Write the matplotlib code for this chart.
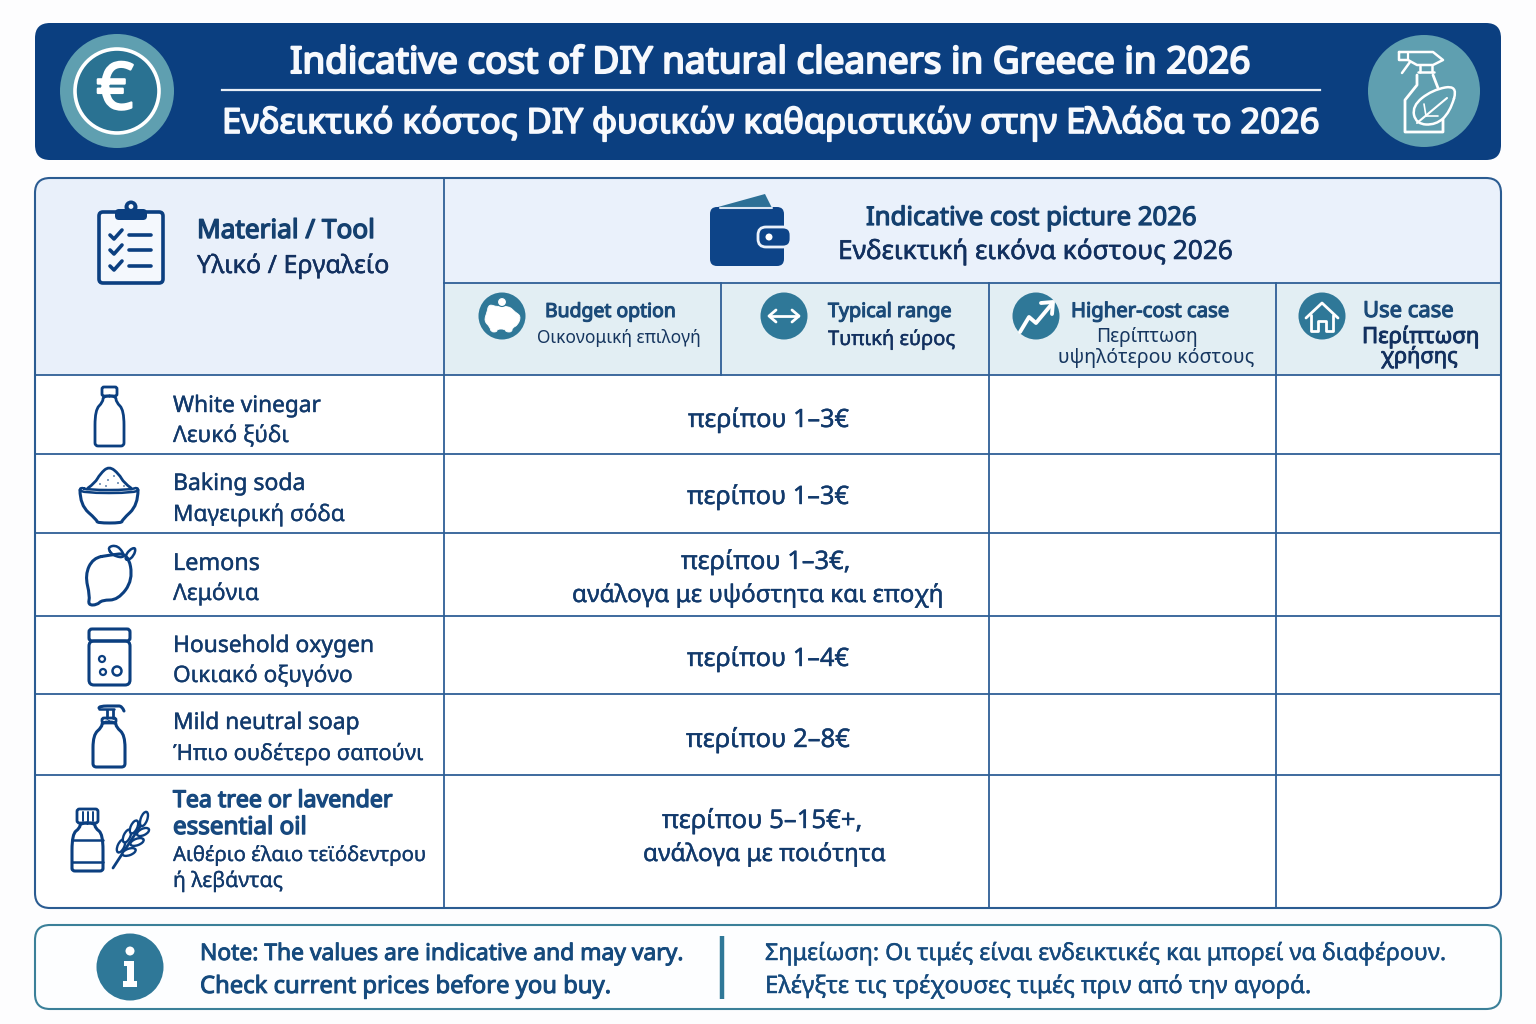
import matplotlib
matplotlib.use('Agg')
import matplotlib.pyplot as plt
import matplotlib.patheffects as pe
from matplotlib.font_manager import FontProperties
from matplotlib.patches import Circle, Ellipse, FancyBboxPatch, PathPatch, Polygon, Rectangle
from matplotlib.path import Path
from matplotlib.textpath import TextPath

# chart content
title_en = 'Indicative cost of DIY natural cleaners in Greece in 2026'
title_gr = 'Ενδεικτικό κόστος DIY φυσικών καθαριστικών στην Ελλάδα το 2026'
material_head = ['Material / Tool', 'Υλικό / Εργαλείο']
cost_head = ['Indicative cost picture 2026', 'Ενδεικτική εικόνα κόστους 2026']
materials_en = ['White vinegar', 'Baking soda', 'Lemons', 'Household oxygen', 'Mild neutral soap']
materials_gr = ['Λευκό ξύδι', 'Μαγειρική σόδα', 'Λεμόνια', 'Οικιακό οξυγόνο', 'Ήπιο ουδέτερο σαπούνι']
oil_lines = ['Tea tree or lavender', 'essential oil', 'Αιθέριο έλαιο τεϊόδεντρου', 'ή λεβάντας']
costs = ['περίπου 1–3€', 'περίπου 1–3€', 'περίπου 1–3€,', 'ανάλογα με υψόστητα και εποχή',
         'περίπου 1–4€', 'περίπου 2–8€', 'περίπου 5–15€+,', 'ανάλογα με ποιότητα']
note_en = ['Note: The values are indicative and may vary.', 'Check current prices before you buy.']
note_gr = ['Σημείωση: Οι τιμές είναι ενδεικτικές και μπορεί να διαφέρουν.',
           'Ελέγξτε τις τρέχουσες τιμές πριν από την αγορά.']

NAVY = '#0b3f80'
INK = '#123a6c'
TEAL = '#2f7898'
LIGHT_TEAL = '#5f9fb0'
GRID = '#2f5f96'
FONT = 'Noto Sans'

fig = plt.figure(figsize=(15.36, 10.24), dpi=100, facecolor='#fdfdfe')
ax = fig.add_axes([0, 0, 1, 1])
ax.set_xlim(0, 1536)
ax.set_ylim(1024, 0)
ax.axis('off')


def label(x0, x1, base, s, color=INK, heavy=0.0):
    # font size is taken from the width the text has in the picture,
    # the installed Noto Sans has one weight so heavier text gets a thin stroke
    fp = FontProperties(family=FONT)
    w = TextPath((0, 0), s, size=100, prop=fp).get_extents().width
    t = ax.text(x0, base, s, fontproperties=fp, color=color, va='baseline', ha='left',
                fontsize=100 * (x1 - x0) / w * 0.72 * 0.995, zorder=5)
    if heavy:
        t.set_path_effects([pe.withStroke(linewidth=heavy, foreground=color)])


def box(x0, y0, x1, y1, r, fc='none', ec='none', lw=0.0, z=2):
    p = FancyBboxPatch((x0 + r, y0 + r), x1 - x0 - 2 * r, y1 - y0 - 2 * r,
                       boxstyle='round,pad=%f,rounding_size=%f' % (r, r),
                       fc=fc, ec=ec, lw=lw, zorder=z)
    ax.add_patch(p)
    return p


def line(pts, color=NAVY, lw=2.0, z=4):
    xs, ys = zip(*pts)
    ax.plot(xs, ys, color=color, lw=lw, solid_capstyle='round', solid_joinstyle='round', zorder=z)


def smooth(pts, fc='none', ec=NAVY, lw=2.0, z=4, closed=True):
    # quadratic curves through the midpoints of the given points
    mid = lambda a, b: ((a[0] + b[0]) / 2, (a[1] + b[1]) / 2)
    if closed:
        verts = [mid(pts[-1], pts[0])]
        codes = [Path.MOVETO]
        for i, p in enumerate(pts):
            verts += [p, mid(p, pts[(i + 1) % len(pts)])]
            codes += [Path.CURVE3, Path.CURVE3]
    else:
        verts = [pts[0]]
        codes = [Path.MOVETO]
        for i, p in enumerate(pts[1:-1]):
            end = pts[-1] if i == len(pts) - 3 else mid(p, pts[i + 2])
            verts += [p, end]
            codes += [Path.CURVE3, Path.CURVE3]
    ax.add_patch(PathPatch(Path(verts, codes), fc=fc, ec=ec, lw=lw, zorder=z,
                           joinstyle='round', capstyle='round'))


# --- banner ---
box(35, 23, 1501, 160, 15, fc=NAVY)
ax.add_patch(Circle((117, 91), 57, fc=LIGHT_TEAL, zorder=3))
ax.add_patch(Circle((117, 91), 42, fc='#2a7292', ec='white', lw=2.6, zorder=3))
euro = ax.text(115, 92, '€', color='white', fontsize=47, family=FONT, ha='center', va='center', zorder=5)
euro.set_path_effects([pe.withStroke(linewidth=1.6, foreground='white')])
label(290, 1252, 73, title_en, color='#f7f9fd', heavy=1.5)
label(222, 1320, 133, title_gr, color='#f7f9fd', heavy=1.2)
ax.plot([222, 1320], [89.5, 89.5], color='#e8eef6', lw=1.6, zorder=4)

ax.add_patch(Circle((1424, 91), 56, fc=LIGHT_TEAL, zorder=3))
WL = 'white'
line([(1399, 52), (1433, 52), (1443, 60), (1433, 65), (1417, 65), (1408, 60), (1399, 60), (1399, 52)], WL, 1.8)
line([(1408, 52), (1408, 60)], WL, 1.6)
line([(1410, 62), (1402, 73)], WL, 1.8)
line([(1420, 66), (1420, 72)], WL, 1.8)
line([(1432, 66), (1432, 72)], WL, 1.8)
line([(1418, 72), (1434, 72)], WL, 1.8)
line([(1417, 75), (1417, 85), (1405, 100), (1405, 132), (1443, 132), (1443, 118)], WL, 2.0)
line([(1433, 75), (1438, 88)], WL, 2.0)
smooth([(1458, 85), (1432, 90), (1412, 106), (1416, 124), (1436, 125), (1450, 112)], fc=LIGHT_TEAL, ec=WL, lw=1.8)
line([(1417, 123), (1447, 98)], WL, 1.5)
line([(1426, 116), (1424, 104)], WL, 1.2)
line([(1426, 116), (1438, 116)], WL, 1.2)

# --- table background, clipped to the rounded frame ---
frame = box(35, 178, 1501, 908, 15, fc='#ffffff', z=1)
head_fills = [((35, 178, 409, 197), '#e9f0fa'), ((444, 178, 1057, 105), '#eaf1fb'), ((444, 283, 1057, 92), '#e2eef3')]
for (x, y, w, h), col in head_fills:
    r = Rectangle((x, y), w, h, fc=col, zorder=1)
    ax.add_patch(r)
    r.set_clip_path(frame)

rule_y = [375, 454, 533, 616, 694, 775]
for y in rule_y:
    ax.plot([35, 1501], [y, y], color=GRID, lw=1.3, zorder=3)
ax.plot([444, 1501], [283, 283], color=GRID, lw=1.3, zorder=3)
ax.plot([444, 444], [178, 908], color=GRID, lw=1.3, zorder=3)
ax.plot([721, 721], [283, 375], color=GRID, lw=1.3, zorder=3)
for x in (989, 1276):
    ax.plot([x, x], [283, 908], color=GRID, lw=1.3, zorder=3)
box(35, 178, 1501, 908, 15, ec='#2b5c92', lw=1.5, z=3)

# --- table heads ---
box(99, 212, 163, 283, 4, fc='#f4f8fd', ec=NAVY, lw=2.6, z=4)
box(115, 209, 147, 220, 4, fc=NAVY, z=5)
ax.add_patch(Circle((131, 207), 6.5, fc=NAVY, zorder=5))
ax.add_patch(Circle((131, 206.5), 2.4, fc='#f4f8fd', zorder=6))
for y in (235, 250, 266):
    line([(110, y), (114, y + 4), (122, y - 5)], NAVY, 2.6)
    line([(129, y), (151, y)], NAVY, 2.6)
label(197, 371, 238, material_head[0], heavy=1.0, color='#14406f')
label(197, 389, 273, material_head[1], heavy=0.3, color='#12305f')

box(710, 207, 784, 266, 7, fc='#0d4488', z=4)
ax.add_patch(Polygon([(718, 207), (765, 194), (772, 208)], fc='#2d7096', zorder=3))
line([(720, 208), (772, 208)], '#dbe6f3', 1.5, z=5)
box(758, 227, 791, 247, 8, fc='#0d4488', ec='#eaf1fb', lw=2, z=5)
ax.add_patch(Circle((769, 237), 3.5, fc='white', zorder=6))
label(866, 1196, 225, cost_head[0], heavy=0.9, color='#14406f')
label(838, 1231, 259, cost_head[1], heavy=0.4, color='#12305f')

# --- sub heads ---
for cx in (502, 784, 1036, 1322):
    ax.add_patch(Circle((cx, 316), 23.5, fc=TEAL, zorder=3))
smooth([(489, 304), (497, 307), (509, 306), (515, 312), (521, 316), (518, 325), (512, 328), (512, 332), (506, 332), (505, 329), (497, 329), (497, 332),
        (491, 332), (490, 327), (484, 321), (487, 312)], fc='white', ec='white', lw=0.6)
ax.add_patch(Circle((502, 302), 4.5, fc='white', ec=TEAL, lw=0.8, zorder=4.5))
line([(770, 316), (798, 316)], 'white', 2.0)
line([(776, 310), (769, 316), (776, 322)], 'white', 2.0)
line([(792, 310), (799, 316), (792, 322)], 'white', 2.0)
line([(1020, 332), (1029, 317), (1036, 323), (1051, 305)], 'white', 2.8)
line([(1041, 303), (1053, 302), (1052, 314)], 'white', 2.8)
line([(1306, 318), (1322, 303), (1338, 318)], 'white', 2.0)
line([(1311, 315), (1311, 331), (1318, 331), (1318, 321), (1326, 321), (1326, 331), (1333, 331), (1333, 315)], 'white', 2.0)

SUB = '#1b4a78'
label(545, 673, 317, 'Budget option', heavy=0.8, color=SUB)
label(537, 699, 343, 'Οικονομική επιλογή', color='#16365f')
label(828, 951, 317, 'Typical range', heavy=0.8, color=SUB)
label(828, 955, 345, 'Τυπική εύρος', heavy=0.3, color='#12305f')
label(1071, 1227, 317, 'Higher-cost case', heavy=0.8, color=SUB)
label(1096, 1195, 342, 'Περίπτωση', color='#16365f')
label(1058, 1253, 363, 'υψηλότερου κόστους', color='#16365f')
label(1363, 1451, 317, 'Use case', heavy=0.8, color=SUB)
label(1362, 1476, 343, 'Περίπτωση', heavy=0.7, color='#12305f')
label(1381, 1457, 363, 'χρήσης', heavy=0.6, color='#12305f')

# --- material rows ---
en_base = [412, 490, 570, 652, 729]
gr_base = [442, 521, 600, 682, 760]
en_right = [321, 302, 257, 371, 357]
gr_right = [289, 343, 259, 351, 424]
for i in range(len(materials_en)):
    label(173, en_right[i], en_base[i], materials_en[i], heavy=0.3)
    label(173, gr_right[i], gr_base[i], materials_gr[i], heavy=0.2)
label(173, 393, 807, oil_lines[0], heavy=1.0, color='#17497f')
label(173, 304, 834, oil_lines[1], heavy=1.0, color='#17497f')
label(173, 426, 861, oil_lines[2], heavy=0.2)
label(173, 281, 887, oil_lines[3], heavy=0.2)

cost_base = [427, 504, 569, 602, 666, 747, 828, 861]
cost_left = [688, 687, 681, 572, 687, 686, 662, 643]
cost_right = [849, 849, 849, 942, 849, 850, 861, 885]
for i in range(len(costs)):
    label(cost_left[i], cost_right[i], cost_base[i], costs[i], heavy=0.3)

# --- row icons ---
# vinegar bottle
box(102, 387, 117, 396, 2, ec=NAVY, lw=2)
smooth([(103, 396), (103, 402), (95, 410), (95, 440), (95, 446), (101, 446), (118, 446), (124, 446), (124, 440), (124, 410), (116, 402), (116, 396)], lw=2)
# bowl
smooth([(80, 490), (80, 505), (97, 520), (97, 523), (122, 523), (122, 520), (138, 505), (138, 490)], lw=2.2, closed=False)
smooth([(88, 488), (95, 483), (100, 474), (109, 466), (119, 474), (124, 483), (131, 488)], lw=2, closed=False)
smooth([(80, 487), (80, 493), (138, 493), (138, 487), (130, 490), (88, 490)], fc='white', lw=1.8)
for p in [(100, 484), (108, 480), (114, 476), (118, 483), (124, 486), (106, 486)]:
    ax.add_patch(Circle(p, 0.8, fc=NAVY, zorder=4))
# lemon
smooth([(110, 555), (128, 553), (133, 580), (118, 600), (102, 600), (97, 605), (88, 605), (90, 596), (85, 575), (93, 558)], lw=2.2)
smooth([(107, 547), (118, 545), (126, 558), (113, 556)], lw=1.8)
smooth([(125, 557), (129, 550), (136, 547), (134, 556), (127, 561)], lw=1.8)
# jar
box(89, 629, 130, 641, 3, ec=NAVY, lw=2.2)
box(89, 641, 130, 685, 5, ec=NAVY, lw=2.2)
ax.add_patch(Circle((102, 659), 3, fc='none', ec=NAVY, lw=1.6, zorder=4))
ax.add_patch(Circle((103, 672), 3, fc='none', ec=NAVY, lw=1.6, zorder=4))
ax.add_patch(Circle((117, 671), 4.5, fc='none', ec=NAVY, lw=1.8, zorder=4))
# soap pump
smooth([(102, 722), (102, 727), (93, 735), (93, 760), (93, 767), (100, 767), (118, 767), (125, 767), (125, 760), (125, 735), (116, 727), (116, 722)], lw=2.2)
box(102, 718, 116, 723, 2, ec=NAVY, lw=2)
line([(107, 710), (107, 718)], NAVY, 2.0)
line([(113, 710), (113, 718)], NAVY, 2.0)
smooth([(99, 708), (99, 706), (116, 706), (122, 706), (124, 711)], lw=2.2, closed=False)
line([(99, 709), (114, 709)], NAVY, 1.8)
# essential oil bottle
box(77, 809, 98, 823, 2.5, ec=NAVY, lw=2.0)
for x in (82.5, 87.5, 92.5):
    line([(x, 812), (x, 821)], NAVY, 1.4)
smooth([(80, 823), (80, 828), (72, 834), (72, 866), (72, 871), (78, 871), (97, 871), (103, 871), (103, 866), (103, 834), (95, 828), (95, 823)], lw=2.2)
line([(72, 840), (103, 840)], NAVY, 1.8)
line([(72, 862), (103, 862)], NAVY, 1.8)
# sprig
line([(113, 868), (143, 822)], NAVY, 2.0)
sprig = [((121, 846), 14, -65), ((127, 836), 14, -65), ((134, 827), 14, -65), ((144, 819), 15, -70),
         ((129, 852), 14, -20), ((137, 842), 14, -20), ((143, 832), 13, -25)]
for c, length, ang in sprig:
    ax.add_patch(Ellipse(c, length, 6.5, angle=ang, fc='white', ec=NAVY, lw=1.7, zorder=4))

# --- note box ---
box(35, 925, 1501, 1009, 15, fc='#fdfeff', ec='#3b8099', lw=1.5, z=2)
ax.add_patch(Circle((130, 967), 33.5, fc=TEAL, zorder=3))
ax.add_patch(Circle((130, 951), 4.5, fc='white', zorder=4))
ax.add_patch(Polygon([(124, 961), (134, 961), (134, 981), (137, 981), (137, 987), (123, 987), (123, 981), (127, 981), (127, 966), (124, 966)],
                     fc='white', zorder=4))
ax.plot([722, 722], [936, 999], color=TEAL, lw=3.2, solid_capstyle='butt', zorder=3)
label(200, 682, 960, note_en[0], color='#154a7d', heavy=0.7)
label(200, 610, 993, note_en[1], color='#154a7d', heavy=0.7)
label(765, 1447, 960, note_gr[0], color='#154a7d', heavy=0.3)
label(765, 1310, 993, note_gr[1], color='#154a7d', heavy=0.3)

fig.savefig('out.png', dpi=100, facecolor=fig.get_facecolor())
